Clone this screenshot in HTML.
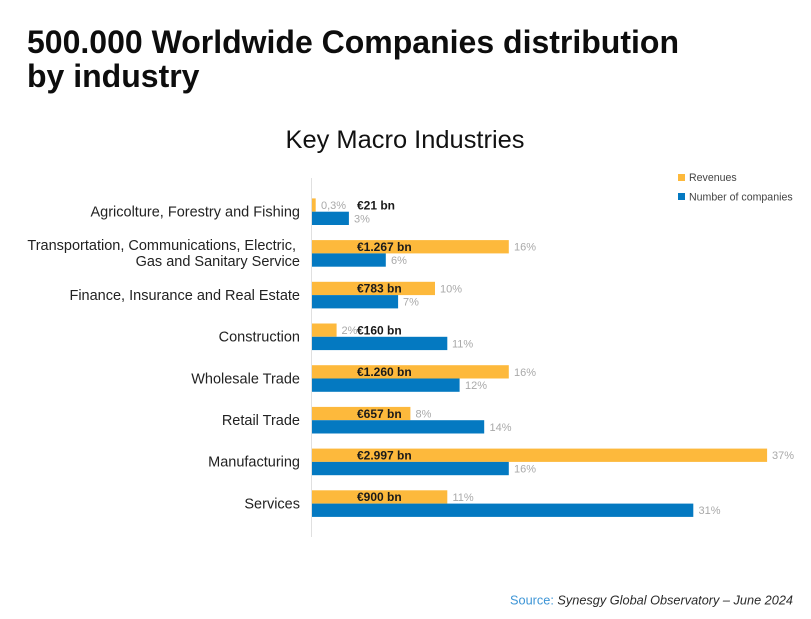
<!DOCTYPE html>
<html>
<head>
<meta charset="utf-8">
<style>
  html,body{margin:0;padding:0;background:#fff;}
  svg{display:block;}
  text{font-family:"Liberation Sans", Arial, sans-serif;}
</style>
</head>
<body>
<svg width="811" height="619" viewBox="0 0 811 619" xmlns="http://www.w3.org/2000/svg">
  <rect width="811" height="619" fill="#fff"/>
  <!-- Title -->
  <text x="27" y="53" font-size="32" font-weight="bold" fill="#0d0d0d">500.000 Worldwide Companies distribution</text>
  <text x="27" y="87" font-size="32" font-weight="bold" fill="#0d0d0d">by industry</text>
  <!-- Subtitle -->
  <text x="405" y="148" font-size="25" text-anchor="middle" fill="#111" textLength="239" lengthAdjust="spacingAndGlyphs">Key Macro Industries</text>

  <!-- Legend -->
  <rect x="678" y="174" width="7" height="7" fill="#FDB93C"/>
  <text x="689" y="181" font-size="10.6" fill="#444">Revenues</text>
  <rect x="678" y="193" width="7" height="7" fill="#0479C1"/>
  <text x="689" y="200.5" font-size="10.6" fill="#444">Number of companies</text>

  <!-- Axis -->
  <line x1="311.5" y1="178" x2="311.5" y2="537" stroke="#e0e0e0" stroke-width="1"/>

  <!-- Category labels -->
  <g font-size="14.5" fill="#222" text-anchor="end">
    <text x="300" y="216.7">Agricolture, Forestry and Fishing</text>
    <text x="296" y="250">Transportation, Communications, Electric,</text>
    <text x="300" y="266">Gas and Sanitary Service</text>
    <text x="300" y="300">Finance, Insurance and Real Estate</text>
    <text x="300" y="341.5">Construction</text>
    <text x="300" y="383.3">Wholesale Trade</text>
    <text x="300" y="425">Retail Trade</text>
    <text x="300" y="466.6">Manufacturing</text>
    <text x="300" y="508.3">Services</text>
  </g>

  <!-- Bars -->
  <g>
    <rect x="312" y="198.4" width="3.7" height="13.3" fill="#FDB93C"/>
    <rect x="312" y="211.7" width="36.9" height="13.3" fill="#0479C1"/>
    <rect x="312" y="240.1" width="196.8" height="13.3" fill="#FDB93C"/>
    <rect x="312" y="253.4" width="73.8" height="13.3" fill="#0479C1"/>
    <rect x="312" y="281.8" width="123" height="13.3" fill="#FDB93C"/>
    <rect x="312" y="295.1" width="86.1" height="13.3" fill="#0479C1"/>
    <rect x="312" y="323.5" width="24.6" height="13.3" fill="#FDB93C"/>
    <rect x="312" y="336.8" width="135.3" height="13.3" fill="#0479C1"/>
    <rect x="312" y="365.2" width="196.8" height="13.3" fill="#FDB93C"/>
    <rect x="312" y="378.5" width="147.6" height="13.3" fill="#0479C1"/>
    <rect x="312" y="406.9" width="98.4" height="13.3" fill="#FDB93C"/>
    <rect x="312" y="420.2" width="172.2" height="13.3" fill="#0479C1"/>
    <rect x="312" y="448.6" width="455.1" height="13.3" fill="#FDB93C"/>
    <rect x="312" y="461.9" width="196.8" height="13.3" fill="#0479C1"/>
    <rect x="312" y="490.3" width="135.3" height="13.3" fill="#FDB93C"/>
    <rect x="312" y="503.6" width="381.3" height="13.3" fill="#0479C1"/>
  </g>

  <!-- Percent labels -->
  <g font-size="11" fill="#a9a9a9">
    <text x="321" y="209">0,3%</text>
    <text x="354" y="222.3">3%</text>
    <text x="514" y="250.7">16%</text>
    <text x="391" y="264">6%</text>
    <text x="440" y="292.4">10%</text>
    <text x="403" y="305.7">7%</text>
    <text x="341.5" y="334.1">2%</text>
    <text x="452" y="347.4">11%</text>
    <text x="514" y="375.8">16%</text>
    <text x="465" y="389.1">12%</text>
    <text x="415.5" y="417.5">8%</text>
    <text x="489.5" y="430.8">14%</text>
    <text x="772" y="459.2">37%</text>
    <text x="514" y="472.5">16%</text>
    <text x="452.5" y="500.9">11%</text>
    <text x="698.5" y="514.2">31%</text>
  </g>

  <!-- Value labels -->
  <g font-size="12" font-weight="bold" fill="#1a1a1a">
    <text x="357" y="209.3">€21 bn</text>
    <text x="357" y="251">€1.267 bn</text>
    <text x="357" y="292.7">€783 bn</text>
    <text x="357" y="334.4">€160 bn</text>
    <text x="357" y="376.1">€1.260 bn</text>
    <text x="357" y="417.8">€657 bn</text>
    <text x="357" y="459.5">€2.997 bn</text>
    <text x="357" y="501.2">€900 bn</text>
  </g>

  <!-- Source -->
  <text x="510" y="604.5" font-size="13" textLength="283" lengthAdjust="spacingAndGlyphs"><tspan fill="#3d95d6">Source: </tspan><tspan fill="#2a2a2a" font-style="italic"> Synesgy Global Observatory – June 2024</tspan></text>
</svg>
</body>
</html>
